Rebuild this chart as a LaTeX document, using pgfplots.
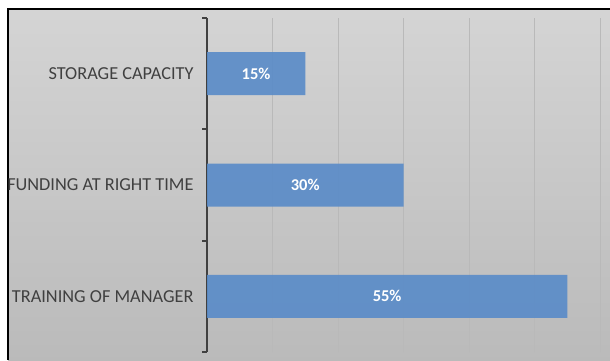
\documentclass[border=0pt]{standalone}
\usepackage{pgfplots}
\pgfplotsset{compat=1.18}
\usepackage{fontspec}
\setmainfont{Carlito}
\definecolor{barblue}{RGB}{91,140,200}
\definecolor{axisdark}{RGB}{64,64,64}
\definecolor{txt}{RGB}{64,64,64}
\definecolor{bgside}{RGB}{208,208,208}
\definecolor{bgmid}{RGB}{246,246,246}
\definecolor{gridc}{RGB}{185,185,185}
\begin{document}
\begin{tikzpicture}[x=1pt,y=1pt]
\useasboundingbox (0,0) rectangle (610,360);
\fill[white] (0,0) rectangle (610,360);
\shade[left color=bgside, middle color=bgmid, right color=bgside] (8,0) rectangle (610,351);
\shade[top color=white, bottom color=black, opacity=0.1] (8,0) rectangle (610,351);
\draw[black, line width=2pt] (8,0) -- (8,351) -- (610,351);
\begin{axis}[
  at={(207pt,8pt)}, anchor=south west,
  width=393pt, height=334pt, scale only axis,
  xmin=0, xmax=60, ymin=-0.5, ymax=2.5,
  xbar, bar width=43pt, bar shift=0pt,
  axis lines=left,
  x axis line style={draw=none},
  y axis line style={draw=axisdark, line width=2.5pt, -},
  xtick={10,20,30,40,50,60}, xticklabels={},
  major x tick style={draw=none},
  xmajorgrids, grid style={draw=gridc, line width=0.9pt},
  ytick={0,1,2},
  yticklabels={TRAINING OF MANAGER, FUNDING AT RIGHT TIME, STORAGE CAPACITY},
  major y tick style={draw=none},
  minor ytick={-0.5,0.5,1.5,2.5},
  minor y tick style={draw=axisdark, line width=2pt},
  minor tick length=5pt, major tick length=5pt,
  tick align=outside,
  y tick label style={font=\fontsize{18.3}{20}\selectfont, text=txt, xshift=-5pt},
  clip=false,
]
\addplot[fill=barblue, fill opacity=0.92, draw=none] coordinates {(55,0) (30,1) (15,2)};
\addplot[draw=none, fill=none, mark=none, nodes near coords, point meta=explicit symbolic,
  every node near coord/.style={anchor=center, text=white, font=\bfseries\fontsize{16.5}{18}\selectfont}]
  coordinates {(27.5,0) [55\%] (15,1) [30\%] (7.5,2) [15\%]};
\end{axis}
\end{tikzpicture}
\end{document}
